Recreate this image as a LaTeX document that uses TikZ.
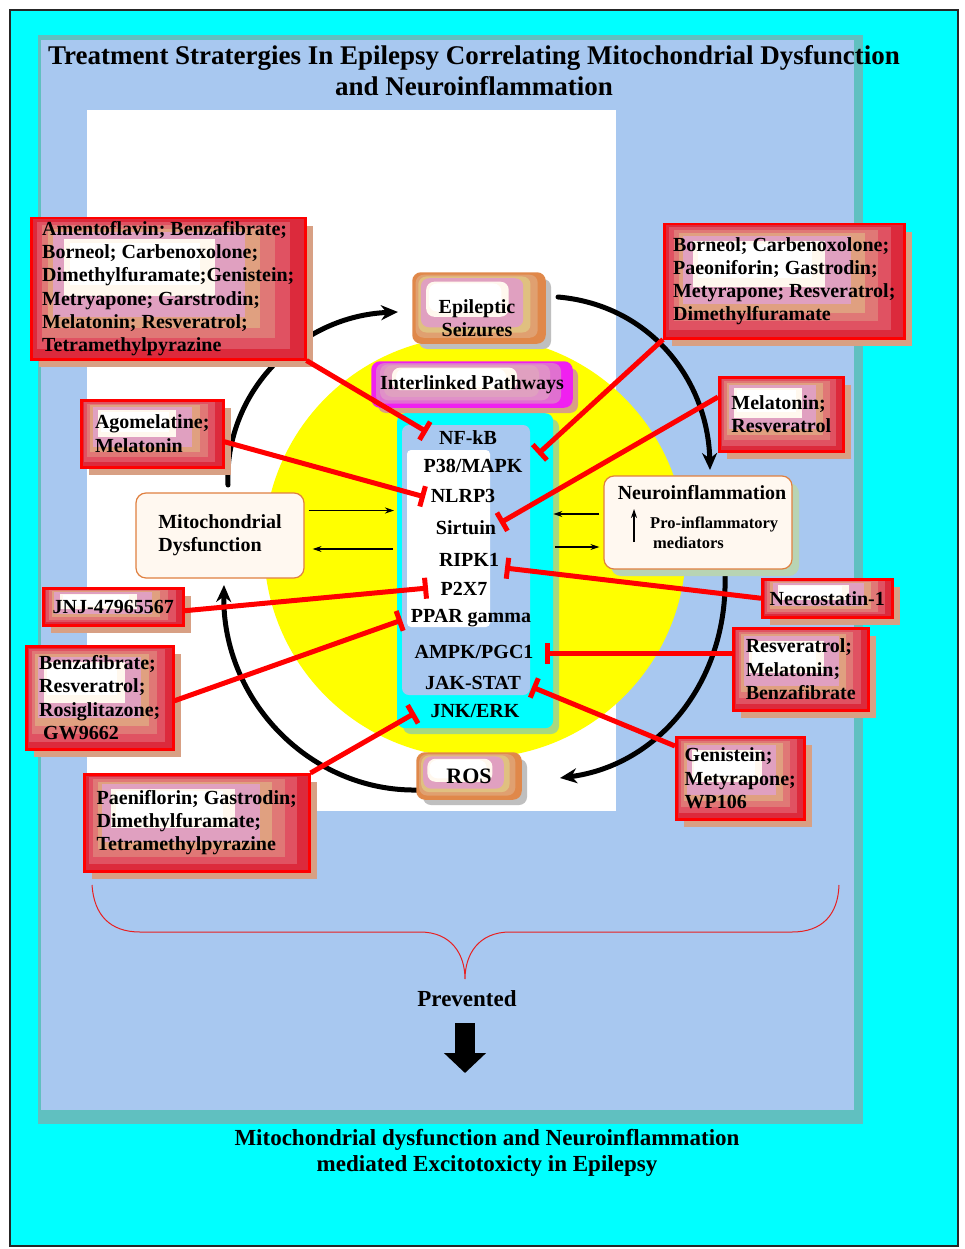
\documentclass[tikz,border=0pt]{standalone}
\usepackage{fontspec}
\setmainfont{Liberation Serif}
\usetikzlibrary{arrows.meta,calc,shadows}
\definecolor{cyanbg}{HTML}{00FFFF}
\definecolor{panel}{HTML}{A8C8F0}
\definecolor{panelsh}{HTML}{60C0C0}
\definecolor{ylw}{HTML}{FFFF00}
\definecolor{rA}{HTML}{DC2A3C}
\definecolor{rB}{HTML}{E05262}
\definecolor{rC}{HTML}{E07876}
\definecolor{rD}{HTML}{E0A080}
\definecolor{rE}{HTML}{E0A0C0}
\definecolor{cream}{HTML}{FFF8EE}
\definecolor{tanSh}{HTML}{D8A084}
\definecolor{oA}{HTML}{E0884A}
\definecolor{oB}{HTML}{E0A070}
\definecolor{oC}{HTML}{E0C080}
\definecolor{mA}{HTML}{F020F0}
\definecolor{mB}{HTML}{E070D0}
\definecolor{mC}{HTML}{E090C8}
\definecolor{boxedge}{HTML}{E08040}
\definecolor{boxfill}{HTML}{FFF8F0}
\definecolor{grnSh}{HTML}{A8D880}
\definecolor{neuroSh}{HTML}{B8D4B4}
\definecolor{ltred}{HTML}{E82020}
\tikzset{
  lay/.style={path picture={%
    \foreach \c [count=\k from 0] in {#1}{%
      \fill[\c] let \p1=(path picture bounding box.south west), \p2=(path picture bounding box.north east) in
        ({\x1+\k*0.02*(\x2-\x1)},{\y1+\k*0.075*(\y2-\y1)}) rectangle ({\x2-\k*0.055*(\x2-\x1)},{\y2-\k*0.025*(\y2-\y1)});
    }}},
  drug/.style={draw=red, line width=2.5pt, lay={rA,rB,rC,rD,rE,rE,cream,white},
    drop shadow={fill=tanSh, opacity=1, shadow xshift=8pt, shadow yshift=-8pt},
    align=left, anchor=north west, inner sep=0pt, font=\fontsize{20}{23.3}\selectfont\bfseries},
  seizbox/.style={draw=oA, line width=1.5pt, rounded corners=8pt, lay={oA,oB,oC,rE,rE,cream,white},
    drop shadow={fill=black!25, opacity=1, shadow xshift=6pt, shadow yshift=-6pt}, inner sep=0pt},
  interbox/.style={draw=mA, line width=1.5pt, rounded corners=8pt, lay={mA,mB,mC,rE,rE,cream,white},
    drop shadow={fill=tanSh, opacity=1, shadow xshift=6pt, shadow yshift=-6pt}, inner sep=0pt},
  plainbox/.style={draw=boxedge, fill=boxfill, line width=1.2pt, rounded corners=10pt, inner sep=0pt},
  cyc/.style={line width=5pt, line cap=round, -{Stealth[length=17pt,width=15pt]}},
  thinarr/.style={line width=1.2pt, -{Stealth[length=9pt,width=6pt]}},
  inh/.style={draw=red, line width=5pt, -{Bar[width=21pt]}},
}
\begin{document}
\begin{tikzpicture}[x=1pt,y=-1pt,font=\fontsize{20}{23.3}\selectfont\bfseries]
\useasboundingbox (0,0) rectangle (964,1249);
\fill[white] (0,0) rectangle (964,1249);
\draw[fill=cyanbg, draw=black!85, line width=1.5pt] (10,10) rectangle (958,1246);
\fill[panelsh] (38,35) rectangle (863,1124);
\fill[panel] (41,40) rectangle (854,1110);
\fill[white] (87,110) rectangle (616,811);
\fill[ylw] (475,547) circle (211);

% title
\node[align=center, font=\fontsize{27}{31}\selectfont\bfseries] (title) at (474,71)
  {Treatment Stratergies In Epilepsy Correlating Mitochondrial Dysfunction\\and Neuroinflammation};

% cycle arcs
\coordinate (a1s) at (228,485); \coordinate (a1e) at (398,312);
\coordinate (a2s) at (558,297); \coordinate (a2e) at (710,470);
\coordinate (a3s) at (725,575); \coordinate (a3e) at (560,778);
\coordinate (a4s) at (418,790); \coordinate (a4e) at (224,585);
\draw[cyc] (a1s) .. controls (224,392) and (300,316) .. (a1e);
\draw[cyc] (a2s) .. controls (650,305) and (708,380) .. (a2e);
\draw[cyc] (a3s) .. controls (728,680) and (660,765) .. (a3e);
\draw[cyc] (a4s) .. controls (310,792) and (222,700) .. (a4e);

% pathway box
\fill[grnSh, rounded corners=8pt] (403,419) rectangle (559,734);
\node[fill=cyanbg, rounded corners=8pt, minimum width=156, minimum height=315, anchor=north west, inner sep=0pt] (pathbox) at (397,413) {};
\fill[panel, rounded corners=7pt] (402,425) rectangle (530,695);
\fill[white, rounded corners=4pt] (407,450) rectangle (490,627);
\node (nfkb) at (468,438) {NF-kB};
\node (p38) at (473,466) {P38/MAPK};
\node (nlrp) at (463,496) {NLRP3};
\node (sirt) at (466,528) {Sirtuin};
\node (ripk) at (469,560) {RIPK1};
\node (p2x) at (464,589) {P2X7};
\node (ppar) at (471,618) {PPAR gamma};
\node (ampk) at (474,652) {AMPK/PGC1};
\node (jak) at (473,683) {JAK-STAT};
\node (jnk) at (475,711) {JNK/ERK};

% main boxes
\node[seizbox, minimum width=132, minimum height=70] (seiz) at (479,308) {};
\node[align=center] (seizT) at (477,318) {Epileptic\\Seizures};
\node[interbox, minimum width=200, minimum height=45] (inter) at (472,384.5) {Interlinked Pathways};
\node[seizbox, minimum width=104, minimum height=46, font=\fontsize{22}{24}\selectfont\bfseries] (ros) at (469,776) {ROS};
\node[plainbox, minimum width=168, minimum height=85, align=left] (mito) at (220,535.5) {Mitochondrial\\Dysfunction};
\node[plainbox, minimum width=188, minimum height=93,
  drop shadow={fill=neuroSh, opacity=1, shadow xshift=7pt, shadow yshift=-7pt}] (neuro) at (698,522.5) {};
\node (neuroT) at (702,493) {Neuroinflammation};
\node[align=left, anchor=west, inner sep=0pt, font=\fontsize{16.5}{19.5}\selectfont\bfseries] (pim) at (650,533) {Pro-inflammatory\\\hspace*{3pt}mediators};
\coordinate (ua1) at (634,542); \coordinate (ua2) at (634,509);
\draw[thinarr] (ua1) -- (ua2);

% thin arrows
\coordinate (m1) at ($(mito.east)+(4,-25)$); \coordinate (m1e) at (m1 -| pathbox.west);
\draw[thinarr, shorten >=3pt] (m1) -- (m1e);
\coordinate (m2) at ($(mito.east)+(8,13.5)$); \coordinate (m2s) at (m2 -| pathbox.west);
\draw[thinarr, shorten <=4pt] (m2s) -- (m2);
\coordinate (n1) at ($(neuro.west)+(-4,-8.5)$); \coordinate (n1e) at (n1 -| pathbox.east);
\draw[thinarr] (n1) -- (n1e);
\coordinate (n2) at ($(neuro.west)+(-4,24.5)$); \coordinate (n2s) at (n2 -| pathbox.east);
\draw[thinarr, shorten <=2pt] (n2s) -- (n2);

% drug boxes
\node[drug, minimum width=274, minimum height=141] (A) at (30,217) {Amentoflavin; Benzafibrate;\\Borneol; Carbenoxolone;\\Dimethylfuramate;Genistein;\\Metryapone; Garstrodin;\\Melatonin; Resveratrol;\\Tetramethylpyrazine};
\node[drug, minimum width=240, minimum height=114] (B) at (663,223) {Borneol; Carbenoxolone;\\Paeoniforin; Gastrodin;\\Metyrapone; Resveratrol;\\Dimethylfuramate};
\node[drug, minimum width=124, minimum height=74] (C) at (718,376) {Melatonin;\\Resveratrol};
\node[drug, minimum width=142, minimum height=67] (D) at (80,399) {Agomelatine;\\Melatonin};
\node[drug, minimum width=140, minimum height=37] (E) at (42,587) {JNJ-47965567};
\node[drug, minimum width=147, minimum height=103] (F) at (25,645) {Benzafibrate;\\Resveratrol;\\Rosiglitazone;\\\hspace*{4pt}GW9662};
\node[drug, minimum width=130, minimum height=38] (G) at (761,578) {Necrostatin-1};
\node[drug, minimum width=135, minimum height=82] (H) at (732,627) {Resveratrol;\\Melatonin;\\Benzafibrate};
\node[drug, minimum width=128, minimum height=82] (I) at (675,736) {Genistein;\\Metyrapone;\\WP106};
\node[drug, minimum width=225, minimum height=97] (J) at (83,773) {Paeniflorin; Gastrodin;\\Dimethylfuramate;\\Tetramethylpyrazine};

% inhibition targets
\coordinate (tNF) at (427,432);
\coordinate (tP38) at (538,454);
\coordinate (tSI) at (500,523);
\coordinate (tNL) at (425,497);
\coordinate (tRI) at (505,568);
\coordinate (tP2) at (428,588);
\coordinate (tPP) at (402,620);
\coordinate (tAM) at (545,653);
\coordinate (tJA) at (532,687);
\coordinate (tJN) at (415,713);
\draw[inh] (A.south east) -- (tNF);
\draw[inh] (B.south west) -- (tP38);
\draw[inh] ($(C.north west)+(0,21)$) -- (tSI);
\draw[inh] ($(D.east)+(0,8)$) -- (tNL);
\draw[inh] (G.west) -- (tRI);
\draw[inh] ($(E.east)+(0,4)$) -- (tP2);
\draw[inh] ($(F.east)+(0,3)$) -- (tPP);
\draw[inh] ($(H.north west)+(0,26)$) -- (tAM);
\draw[inh] ($(I.north west)+(0,10)$) -- (tJA);
\draw[inh] (J.north east) -- (tJN);

% brace
\coordinate (br1) at (92,885); \coordinate (br2) at (839,885); \coordinate (brt) at (465,979);
\draw[ltred, line width=1pt] (br1) .. controls (94,915) and (110,932) .. (140,932) -- (420,932)
  .. controls (452,932) and (465,955) .. (brt) .. controls (465,955) and (478,932) .. (510,932)
  -- (792,932) .. controls (822,932) and (838,915) .. (br2);

\node[font=\fontsize{23}{26}\selectfont\bfseries] (prev) at (467,999) {Prevented};
\coordinate (bas) at (465,1023); \coordinate (bae) at (465,1073);
\draw[line width=20pt, -{Triangle[length=20pt,width=41pt]}] (bas) -- (bae);

\node[align=center, font=\fontsize{23}{26.5}\selectfont\bfseries] (concl) at (487,1153)
  {Mitochondrial dysfunction and Neuroinflammation\\mediated Excitotoxicty in Epilepsy};
\end{tikzpicture}
\end{document}
